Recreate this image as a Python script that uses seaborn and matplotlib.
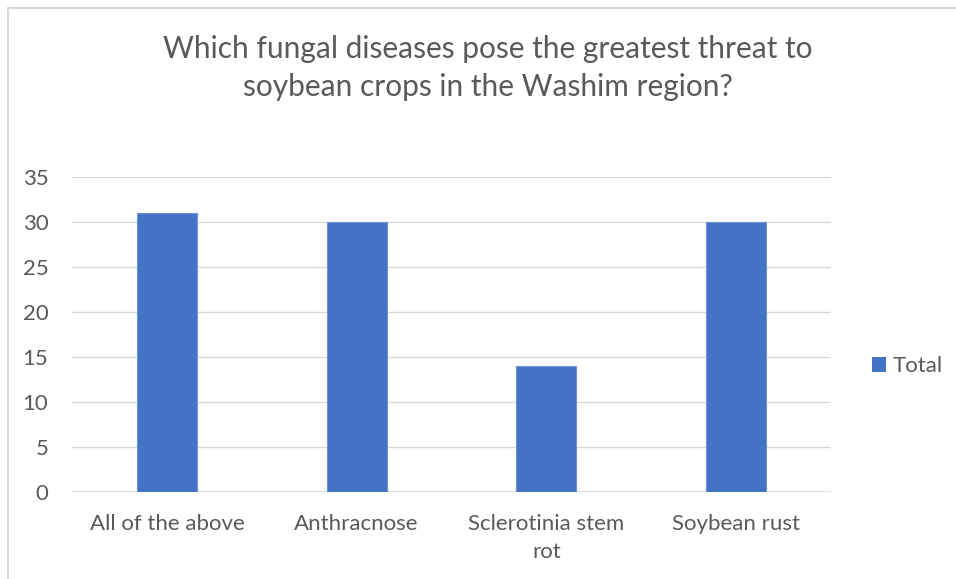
import matplotlib
matplotlib.use("Agg")
import matplotlib.pyplot as plt
from matplotlib.patches import Rectangle, Patch
import seaborn as sns

categories = ["All of the above", "Anthracnose", "Sclerotinia stem\nrot", "Soybean rust"]
totals = [31, 30, 14, 30]
y_ticks = [0, 5, 10, 15, 20, 25, 30, 35]
title = "Which fungal diseases pose the greatest threat to\nsoybean crops in the Washim region?"
series_name = "Total"

BAR = "#4472C4"
TEXT = "#595959"
GRID = "#D9D9D9"

sns.set_theme(style="white")
plt.rcParams["font.family"] = ["Lato", "DejaVu Sans"]

W, H = 956, 579
fig = plt.figure(figsize=(W / 100, H / 100), dpi=100)
ax = fig.add_axes([72 / W, 87 / H, (831 - 72) / W, (492 - 177) / H])

sns.barplot(x=categories, y=totals, color=BAR, saturation=1, width=0.316,
            edgecolor="#6F93D6", linewidth=0.8, ax=ax, zorder=3)

ax.set_xlim(-0.5, len(categories) - 0.5)
ax.set_ylim(0, 35)
ax.set_yticks(y_ticks)
ax.set_yticklabels([str(v) for v in y_ticks])
ax.yaxis.grid(True, color=GRID, linewidth=1.0, zorder=0)
ax.set_axisbelow(True)
for s in ax.spines.values():
    s.set_visible(False)
ax.axhline(0, color=GRID, linewidth=1.2, zorder=1)

ax.tick_params(axis="y", length=0, pad=17, labelsize=16, labelcolor=TEXT)
ax.tick_params(axis="x", length=0, pad=15.5, labelsize=16, labelcolor=TEXT)
for lbl in ax.get_xticklabels():
    lbl.set_linespacing(1.55)
ax.set_xlabel("")
ax.set_ylabel("")

fig.text(488 / W, 1 - 68 / H, title, ha="center", va="center",
         fontsize=21.5, color=TEXT, linespacing=1.45)

handle = Patch(facecolor=BAR, edgecolor="none")
fig.legend([handle], [series_name], loc="center left",
           bbox_to_anchor=(872 / W, 213 / H), frameon=False, borderpad=0,
           borderaxespad=0, handlelength=0.64, handleheight=0.64,
           handletextpad=0.3, fontsize=16, labelcolor=TEXT)

# outer chart frame, running off the right and bottom edges
fig.add_artist(Rectangle((7.5 / W, -0.1), 1.2, 1 - 7.5 / H + 0.1,
                         transform=fig.transFigure, fill=False,
                         edgecolor=GRID, linewidth=1.5))

fig.savefig("out.png", dpi=100, facecolor="white")
